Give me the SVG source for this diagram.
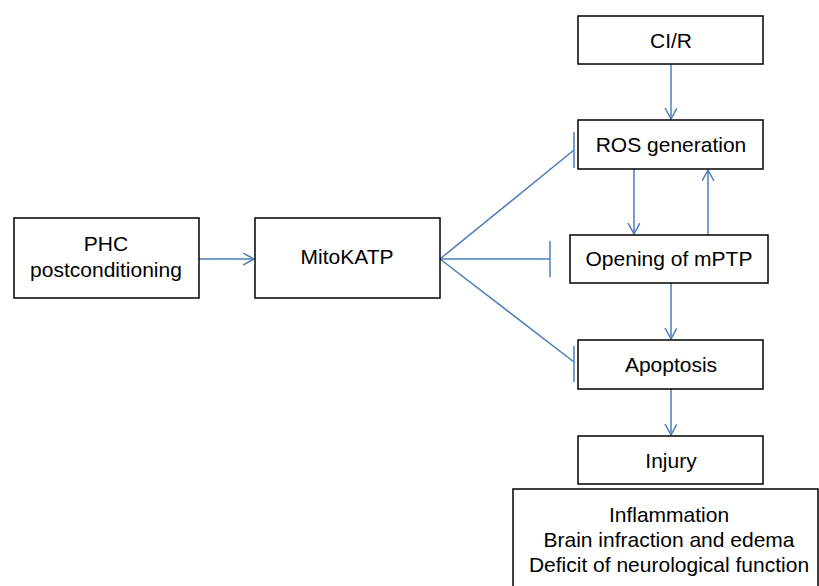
<svg xmlns="http://www.w3.org/2000/svg" width="819" height="586" viewBox="0 0 819 586">
<defs>
<style>
.box{fill:#fff;stroke:#000;stroke-width:1.5}
.t{font-family:"Liberation Sans",Arial,sans-serif;font-size:21px;fill:#000;text-anchor:middle}
.c{stroke:#4a7ebb;stroke-width:1.5;fill:none}
</style>
<marker id="arr" markerWidth="14" markerHeight="14" refX="11" refY="6" orient="auto" markerUnits="userSpaceOnUse">
<path d="M0,0 L11,6 L0,12" fill="none" stroke="#4a7ebb" stroke-width="1.5"/>
</marker>
</defs>
<rect width="819" height="586" fill="#fff"/>
<g id="connectors">
<line class="c" x1="199" y1="259" x2="254" y2="259" marker-end="url(#arr)"/>
<line class="c" x1="671" y1="64" x2="671" y2="119" marker-end="url(#arr)"/>
<line class="c" x1="634" y1="169" x2="634" y2="234" marker-end="url(#arr)"/>
<line class="c" x1="708" y1="235" x2="708" y2="170" marker-end="url(#arr)"/>
<line class="c" x1="671" y1="283" x2="671" y2="339" marker-end="url(#arr)"/>
<line class="c" x1="671" y1="389" x2="671" y2="435" marker-end="url(#arr)"/>
<line class="c" x1="440" y1="259" x2="574" y2="150"/>
<line class="c" x1="574" y1="132" x2="574" y2="168"/>
<line class="c" x1="440" y1="259" x2="550" y2="259"/>
<line class="c" x1="550" y1="241" x2="550" y2="277"/>
<line class="c" x1="440" y1="259" x2="574" y2="362"/>
<line class="c" x1="574" y1="346" x2="574" y2="382"/>
</g>
<g id="phc"><rect class="box" x="14" y="218" width="185" height="80"/><text class="t" x="106" y="251">PHC</text><text class="t" x="106" y="277">postconditioning</text></g>
<g id="mitokatp"><rect class="box" x="255" y="218" width="185" height="80"/><text class="t" x="347" y="264">MitoKATP</text></g>
<g id="cir"><rect class="box" x="578" y="16" width="185" height="48"/><text class="t" x="671" y="48">CI/R</text></g>
<g id="ros"><rect class="box" x="578" y="120" width="185" height="49"/><text class="t" x="671" y="152">ROS generation</text></g>
<g id="mptp"><rect class="box" x="570" y="235" width="198" height="48"/><text class="t" x="669" y="266">Opening of mPTP</text></g>
<g id="apoptosis"><rect class="box" x="578" y="340" width="185" height="49"/><text class="t" x="671" y="372">Apoptosis</text></g>
<g id="injury"><rect class="box" x="578" y="436" width="185" height="48"/><text class="t" x="671" y="468">Injury</text></g>
<g id="outcomes"><rect class="box" x="513" y="489" width="305" height="110"/><text class="t" x="669" y="522">Inflammation</text><text class="t" x="669" y="547">Brain infraction and edema</text><text class="t" x="669" y="572">Deficit of neurological function</text></g>
</svg>
